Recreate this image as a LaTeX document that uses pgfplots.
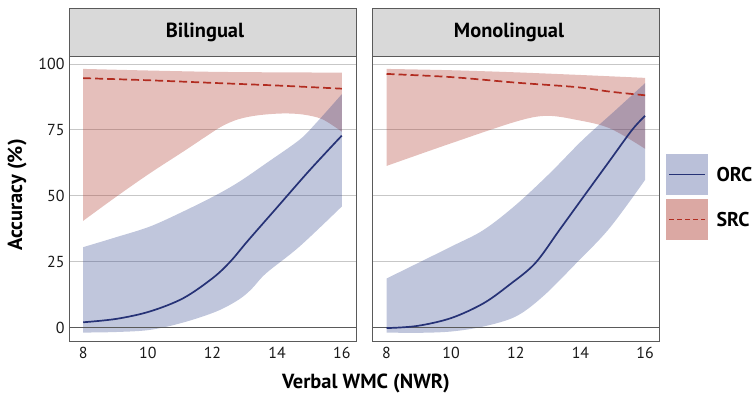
\documentclass[border=0pt]{standalone}
\usepackage{pgfplots}
\pgfplotsset{compat=1.18}
\usepgfplotslibrary{fillbetween}
\usepackage{fontspec}
\setmainfont{PT Sans}
\definecolor{orcline}{RGB}{38,50,118}
\definecolor{srcline}{RGB}{178,44,32}
\definecolor{orcfill}{RGB}{45,65,140}
\definecolor{srcfill}{RGB}{175,62,50}
\definecolor{stripbg}{RGB}{217,217,217}
\definecolor{frame}{RGB}{90,90,90}

\pgfplotsset{panel/.style={
  scale only axis, width=287bp, height=285bp,
  xmin=7.56, xmax=16.44, ymin=-5.1, ymax=103,
  xtick={8,10,12,14,16}, ytick={0,25,50,75,100},
  major tick length=0pt,
  axis line style={frame, line width=0.9bp},
  ymajorgrids, grid style={black!22, line width=0.7bp},
  tick label style={font=\fontsize{16}{16}\selectfont, text=black!90},
  /pgf/number format/assume math mode=true,
  xticklabel style={yshift=-3bp},
  yticklabel style={xshift=-1bp},
  every axis plot/.append style={tension=0.55},
}}

\begin{document}
\begin{tikzpicture}
\path (0,0) rectangle (756bp,395bp);

% ---------------- Bilingual ----------------
\begin{axis}[panel, at={(69bp,54bp)}, anchor=south west]
\addplot[frame, line width=0.9bp, forget plot] coordinates {(7.56,0) (16.44,0)};
\addplot[name path=su, draw=none, smooth] coordinates {(8,98.1)(10,97.5)(12,97.0)(14,96.8)(16,96.7)};
\addplot[name path=sl, draw=none, smooth] coordinates {(8,40.5)(9.03,49.7)(10.06,58.5)(11.09,66.7)(11.8,72.5)(12.3,76.4)(12.8,79.0)(13.4,80.5)(14.17,81.2)(14.8,80.8)(15.4,79.0)(16,74.3)};
\addplot[srcfill, fill opacity=0.33, draw=none] fill between[of=su and sl];
\addplot[name path=ou, draw=none, smooth] coordinates {(8,30.5)(9,34.2)(10.06,38.3)(11.09,44.0)(12.12,50.3)(12.84,55.4)(13.66,62.3)(14.69,71.2)(15.2,77.5)(16,88.5)};
\addplot[name path=ol, draw=none, smooth] coordinates {(8,-1.9)(9,-1.7)(10.06,-0.9)(11.09,1.9)(12.12,6.1)(12.8,10.5)(13.2,14.5)(13.66,20.6)(14.69,30.7)(16,45.9)};
\addplot[orcfill, fill opacity=0.3, draw=none] fill between[of=ou and ol];
\addplot[orcline, line width=1.7bp, smooth] coordinates {(8,2.0)(9.03,3.3)(10.06,6.1)(11.09,11.1)(12.0,18.7)(12.55,25.0)(13.1,33.0)(14.0,45.6)(15.0,59.6)(16,72.8)};
\addplot[srcline, line width=1.7bp, dash pattern=on 8bp off 4bp, smooth] coordinates {(8,94.6)(10,93.8)(12,92.8)(14,91.8)(16,90.6)};
\end{axis}

% ---------------- Monolingual ----------------
\begin{axis}[panel, at={(372.3bp,54bp)}, anchor=south west, yticklabels={}]
\addplot[frame, line width=0.9bp, forget plot] coordinates {(7.56,0) (16.44,0)};
\addplot[name path=su, draw=none, smooth] coordinates {(8,98.1)(10,97.6)(12,96.8)(14,95.8)(16,94.7)};
\addplot[name path=sl, draw=none, smooth] coordinates {(8,61.3)(10,69.9)(12,78.1)(12.94,80.3)(13.87,78.8)(14.9,75.6)(16,67.8)};
\addplot[srcfill, fill opacity=0.33, draw=none] fill between[of=su and sl];
\addplot[name path=ou, draw=none, smooth] coordinates {(8,18.6)(10,30.7)(11,37.0)(12,46.5)(13.05,58.5)(14.07,71.2)(15.1,82.6)(16,92.7)};
\addplot[name path=ol, draw=none, smooth] coordinates {(8,-1.9)(9,-2.0)(10,-1.5)(11,0.4)(12,4.2)(12.84,11.8)(13.87,24.4)(14.9,37.7)(16,56.0)};
\addplot[orcfill, fill opacity=0.3, draw=none] fill between[of=ou and ol];
\addplot[orcline, line width=1.7bp, smooth] coordinates {(8,-0.2)(8.94,0.6)(10,3.6)(11,9.2)(11.8,16.2)(12.6,24.4)(13.35,37.0)(14.07,49.2)(14.9,63.2)(15.6,75.0)(16,80.3)};
\addplot[srcline, line width=1.7bp, dash pattern=on 8bp off 4bp, smooth] coordinates {(8,96.2)(10,95.0)(12,92.9)(13.87,91.2)(14.9,89.5)(16,88.1)};
\end{axis}

% strips
\draw[frame, line width=0.9bp, fill=stripbg] (69bp,339bp) rectangle (356bp,387bp);
\draw[frame, line width=0.9bp, fill=stripbg] (372.3bp,339bp) rectangle (659.3bp,387bp);
\node[font=\fontsize{20.5}{20.5}\selectfont\bfseries] at (205bp,363bp) {Bilingual};
\node[font=\fontsize{20.5}{20.5}\selectfont\bfseries] at (509bp,363bp) {Monolingual};

% axis titles
\node[font=\fontsize{20.5}{20.5}\selectfont\bfseries, rotate=90] at (17bp,200bp) {Accuracy (\%)};
\node[font=\fontsize{20.5}{20.5}\selectfont\bfseries] at (366bp,12bp) {Verbal WMC (NWR)};

% legend
\fill[orcfill, fill opacity=0.33] (666bp,200bp) rectangle (707.7bp,241bp);
\draw[orcline, line width=1.7bp] (669bp,220.5bp) -- (705bp,220.5bp);
\fill[srcfill, fill opacity=0.45] (666bp,155bp) rectangle (707.7bp,196bp);
\draw[srcline, line width=1.7bp, dash pattern=on 5bp off 3bp] (669bp,175.5bp) -- (705bp,175.5bp);
\node[anchor=west, font=\fontsize{20}{20}\selectfont\bfseries] at (713bp,220.5bp) {ORC};
\node[anchor=west, font=\fontsize{20}{20}\selectfont\bfseries] at (713bp,175.5bp) {SRC};
\end{tikzpicture}
\end{document}
